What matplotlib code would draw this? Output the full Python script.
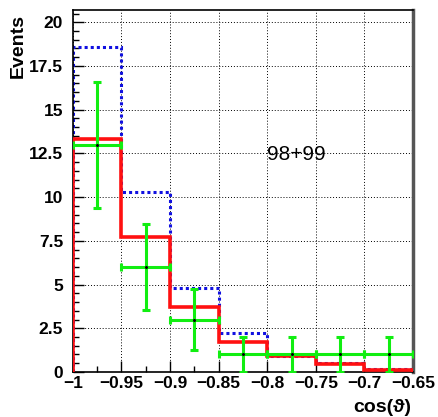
import matplotlib
matplotlib.use('Agg')
import matplotlib.pyplot as plt
from matplotlib.ticker import MultipleLocator, FuncFormatter

# bin edges in cos(theta)
edges = [-1.0, -0.95, -0.9, -0.85, -0.8, -0.75, -0.7, -0.65]
# expectation histograms
red_vals = [13.3, 7.7, 3.7, 1.73, 0.91, 0.46, 0.1]
blue_vals = [18.6, 10.3, 4.8, 2.2, 0.9, 0.53, 0.15]
# data points with errors
data_x = [-0.975, -0.925, -0.875, -0.825, -0.775, -0.725, -0.675]
data_y = [13, 6, 3, 1, 1, 1, 1]
data_err = [3.6, 2.45, 1.73, 1.0, 1.0, 1.0, 1.0]

plt.rcParams['font.family'] = ['Liberation Sans', 'DejaVu Sans']

fig = plt.figure(figsize=(4.39, 4.17), dpi=100)
ax = fig.add_axes([0.166, 0.108, 0.775, 0.868])

ax.grid(True, which='major', color='black', linestyle=(0, (1, 2)), linewidth=0.7)
ax.set_axisbelow(True)

ax.stairs(blue_vals, edges, color='#1010e0', linestyle=(0, (1, 1)), linewidth=2.2, zorder=2)
ax.stairs(red_vals, edges, color='#ff1010', linewidth=2.6, zorder=3)
ax.errorbar(data_x, data_y, xerr=0.025, yerr=data_err, fmt='none',
            ecolor='#11ee11', elinewidth=2.2, capsize=3, capthick=2.2, zorder=4)
ax.plot(data_x, data_y, 'o', color='black', markersize=1.2, zorder=5)

ax.text(-0.80, 12.45, '98+99', fontsize=15, va='center', ha='left')

ax.set_xlim(-1.0, -0.65)
ax.set_ylim(0, 20.7)

ax.xaxis.set_major_locator(MultipleLocator(0.05))
ax.xaxis.set_minor_locator(MultipleLocator(0.025))
ax.yaxis.set_major_locator(MultipleLocator(2.5))
ax.yaxis.set_minor_locator(MultipleLocator(0.5))


def fmt(v, pos):
    s = '%g' % round(v, 3)
    return s.replace('-', '\u2212')


ax.xaxis.set_major_formatter(FuncFormatter(fmt))
ax.yaxis.set_major_formatter(FuncFormatter(fmt))

ax.tick_params(which='both', direction='in', top=False, right=False)
ax.tick_params(which='major', length=8, width=1, labelsize=12.5)
ax.tick_params(axis='x', which='major', pad=3)
ax.tick_params(axis='y', which='major', pad=7)
ax.tick_params(which='minor', length=4, width=1)
for lab in ax.get_xticklabels() + ax.get_yticklabels():
    lab.set_fontweight('bold')

ax.spines['right'].set_linewidth(2.5)
ax.spines['right'].set_color('#555555')
for s in ['left', 'bottom', 'top']:
    ax.spines[s].set_linewidth(1.2)

ax.set_ylabel('Events', fontsize=14, fontweight='bold')
ax.yaxis.set_label_coords(-0.135, 0.9)
ax.set_xlabel('cos(\u03d1)', fontsize=14, fontweight='bold')
ax.xaxis.set_label_coords(0.91, -0.075)

fig.savefig('out.png', dpi=100)
